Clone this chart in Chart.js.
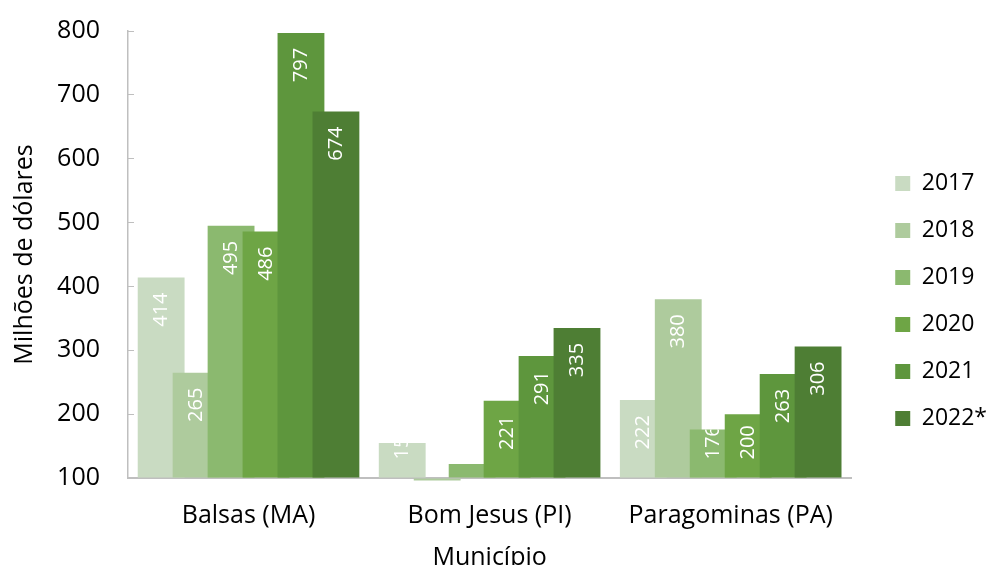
<!DOCTYPE html>
<html lang="pt-BR">
<head>
<meta charset="utf-8">
<title>Municípios</title>
<script src="https://cdn.jsdelivr.net/npm/chart.js@4.4.1/dist/chart.umd.min.js"></script>
<style>
  html, body { margin: 0; padding: 0; background: #fff; }
  #wrap { width: 986px; height: 565px; position: relative; }
</style>
</head>
<body>
<div id="wrap"><canvas id="municipioChart"></canvas></div>
<script>
// categorias e valores (milhões de dólares)
const municipios = ['Balsas (MA)', 'Bom Jesus (PI)', 'Paragominas (PA)'];
const anos = ['2017', '2018', '2019', '2020', '2021', '2022*'];
const valores2017 = [414, 155, 222];
const valores2018 = [265, 96, 380];
const valores2019 = [495, 122, 176];
const valores2020 = [486, 221, 200];
const valores2021 = [797, 291, 263];
const valores2022 = [674, 335, 306];
const yTicks = [100, 200, 300, 400, 500, 600, 700, 800];

const cores = ['#c9dbc2', '#aecb9d', '#8bb96f', '#6ea545', '#5e963d', '#4e7e34'];
const series = [valores2017, valores2018, valores2019, valores2020, valores2021, valores2022];
const FONT = 'Open Sans';

// desenha as barras na ordem das séries (a última fica por cima) e os rótulos
const barrasPlugin = {
    id: 'barrasPlugin',
    afterLayout(chart) {
        // afasta a legenda do gráfico, como no original
        const l = chart.legend;
        l.left += 20; l.right += 20;
        l.top += 3; l.bottom += 3;
    },
    beforeDatasetsDraw(chart) {
        const ctx = chart.ctx;
        const yScale = chart.scales.y;
        for (let i = 0; i < chart.data.datasets.length; i++) {
            const meta = chart.getDatasetMeta(i);
            if (!meta.hidden) meta.controller.draw();
        }
        ctx.save();
        ctx.font = '20px "' + FONT + '"';
        ctx.fillStyle = '#ffffff';
        ctx.textBaseline = 'middle';
        for (let i = 0; i < chart.data.datasets.length; i++) {
            const meta = chart.getDatasetMeta(i);
            if (meta.hidden) continue;
            meta.data.forEach((bar, j) => {
                const v = chart.data.datasets[i].data[j];
                if (v <= yScale.min) return;
                const top = bar.y;
                const base = bar.base;
                const h = base - top;
                const txt = String(v);
                const w = ctx.measureText(txt).width;
                const pad = 15;
                ctx.save();
                ctx.beginPath();
                ctx.rect(bar.x - bar.width / 2, top, bar.width, h);
                ctx.clip();
                if (w + 2 * pad <= h) {
                    ctx.translate(bar.x, top + pad);
                    ctx.rotate(-Math.PI / 2);
                    ctx.textAlign = 'right';
                } else {
                    ctx.translate(bar.x, base - 18);
                    ctx.rotate(-Math.PI / 2);
                    ctx.textAlign = 'left';
                }
                ctx.fillText(txt, 0, 0);
                ctx.restore();
            });
        }
        ctx.restore();
        return false;
    }
};

const ctx = document.getElementById('municipioChart').getContext('2d');
new Chart(ctx, {
    type: 'bar',
    data: {
        labels: municipios,
        datasets: anos.map((ano, i) => ({
            label: ano,
            data: series[i],
            backgroundColor: cores[i],
            borderWidth: 0,
            base: 100,
            categoryPercentage: 0.87,
            barPercentage: 1.34,
            clip: false
        }))
    },
    options: {
        responsive: true,
        maintainAspectRatio: false,
        animation: false,
        layout: { padding: { top: 31, right: 9, left: 10, bottom: 0 } },
        scales: {
            x: {
                grid: { display: true, drawOnChartArea: false, drawTicks: false },
                border: { display: true, color: '#bfbfbf', width: 2 },
                ticks: { color: '#000', font: { family: FONT, size: 25 }, padding: 23 },
                title: { display: true, text: 'Município', color: '#000', font: { family: FONT, size: 25 }, padding: { top: 0, bottom: -8 } },
                afterFit(scale) { scale.height = 87; }
            },
            y: {
                min: 100,
                max: 800,
                afterBuildTicks(scale) { scale.ticks = yTicks.map(v => ({ value: v })); },
                grid: { display: true, drawOnChartArea: false, drawTicks: true, tickLength: -6, color: '#bfbfbf' },
                border: { display: true, color: '#bfbfbf', width: 1.5 },
                ticks: { color: '#000', font: { family: FONT, size: 25 }, padding: 34 },
                title: { display: true, text: 'Milhões de dólares', color: '#000', font: { family: FONT, size: 25 }, padding: 0 },
                afterFit(scale) {
                    scale.width = 118;
                    scale.paddingTop = 0;
                    scale.paddingBottom = 0;
                }
            }
        },
        plugins: {
            legend: {
                display: true,
                position: 'right',
                labels: {
                    color: '#000',
                    font: { family: FONT, size: 23 },
                    boxWidth: 15,
                    boxHeight: 15,
                    padding: 24
                }
            },
            tooltip: { enabled: false }
        }
    },
    plugins: [barrasPlugin]
});
</script>
</body>
</html>
